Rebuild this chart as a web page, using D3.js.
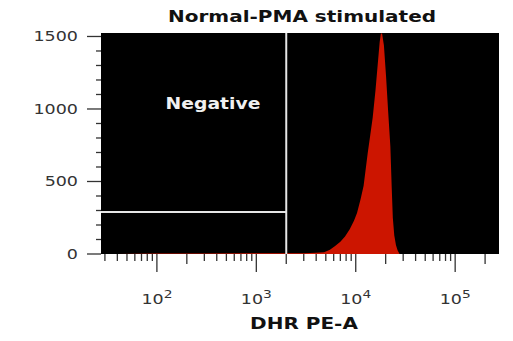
<!DOCTYPE html>
<html>
<head>
<meta charset="utf-8">
<script src="https://cdn.jsdelivr.net/npm/d3@7"></script>
<style>
  body { margin: 0; background: #fff; }
  svg text { font-family: "DejaVu Sans", Verdana, sans-serif; }
</style>
</head>
<body>
<div id="chart"></div>
<script>
// histogram: DHR PE-A channel value -> event count
const dhrValues = [40, 100, 300, 1000, 2000, 3000, 4000, 4800, 5500, 6200, 7000, 7800, 8700, 9600,
  10300, 11200, 12000, 13200, 14000, 14800, 15800, 16600, 17400, 17900, 18400, 19200, 20200,
  21200, 22300, 23000, 23600, 24400, 25400, 26400, 27600];
const eventCounts = [0, 3, 4, 5, 5, 6, 8, 12, 30, 55, 85, 120, 170, 230,
  283, 380, 470, 697, 820, 940, 1130, 1300, 1460, 1520, 1520, 1440, 1220,
  980, 740, 460, 250, 130, 60, 25, 0];

const yTicks = [0, 500, 1000, 1500];
const decades = [100, 1000, 10000, 100000];
const gateX = 2000;   // vertical gate
const gateY = 290;    // horizontal gate
const chartTitle = "Normal-PMA stimulated";
const xTitle = "DHR PE-A";
const gateLabel = "Negative";

const width = 513, height = 341;
const plot = {left: 101, right: 499, top: 33, bottom: 254};
const stretch = 1.25;   // source picture is stretched sideways

const svg = d3.select("#chart")
  .append("svg")
  .attr("width", width)
  .attr("height", height);

const x = d3.scaleLog()
  .domain([27.4, 276000])
  .range([plot.left, plot.right]);

const y = d3.scaleLinear()
  .domain([0, 1524])
  .range([plot.bottom, plot.top]);

// stretched text helper
function label(px, py, txt, size, weight, fill, anchor) {
  return svg.append("text")
    .attr("transform", "translate(" + px + "," + py + ") scale(" + stretch + ",1)")
    .attr("text-anchor", anchor)
    .attr("font-size", size)
    .attr("font-weight", weight)
    .attr("fill", fill)
    .text(txt);
}

// plot background
svg.append("rect")
  .attr("x", plot.left)
  .attr("y", plot.top)
  .attr("width", plot.right - plot.left)
  .attr("height", plot.bottom - plot.top)
  .attr("fill", "#000");

svg.append("clipPath").attr("id", "clip")
  .append("rect")
  .attr("x", plot.left)
  .attr("y", plot.top)
  .attr("width", plot.right - plot.left)
  .attr("height", plot.bottom - plot.top);

const data = dhrValues.map((v, i) => ({v: v, c: eventCounts[i]}));

const area = d3.area()
  .x(d => x(d.v))
  .y0(y(0))
  .y1(d => y(d.c));

svg.append("path")
  .datum(data)
  .attr("clip-path", "url(#clip)")
  .attr("d", area)
  .attr("fill", "#cc1500");

// gates
svg.append("line")
  .attr("x1", x(gateX)).attr("x2", x(gateX))
  .attr("y1", plot.top).attr("y2", plot.bottom)
  .attr("stroke", "#e6e6e6").attr("stroke-width", 2);

svg.append("line")
  .attr("x1", plot.left).attr("x2", x(gateX))
  .attr("y1", y(gateY)).attr("y2", y(gateY))
  .attr("stroke", "#e6e6e6").attr("stroke-width", 2);

label(213, 109, gateLabel, 15, "bold", "#f0f0f0", "middle");

// y axis
const yMinor = d3.range(0, 1501, 100);
svg.selectAll(".ytick")
  .data(yMinor)
  .enter()
  .append("line")
  .attr("x1", d => d % 500 === 0 ? plot.left - 14 : plot.left - 5)
  .attr("x2", plot.left)
  .attr("y1", d => y(d)).attr("y2", d => y(d))
  .attr("stroke", "#333").attr("stroke-width", 1.3);

yTicks.forEach(t => {
  label(78, y(t) + 5, t, 14, "normal", "#333", "end");
});

// x axis ticks: decades long, 2x medium, others short
const xMinor = [];
[10, 100, 1000, 10000, 100000].forEach(dec => {
  for (let m = 1; m < 10; m++) {
    const v = dec * m;
    if (v >= x.domain()[0] && v <= x.domain()[1]) xMinor.push({v: v, m: m});
  }
});

svg.selectAll(".xtick")
  .data(xMinor)
  .enter()
  .append("line")
  .attr("x1", d => x(d.v)).attr("x2", d => x(d.v))
  .attr("y1", plot.bottom)
  .attr("y2", d => d.m === 1 ? plot.bottom + 18 : (d.m === 2 ? plot.bottom + 10 : plot.bottom + 7))
  .attr("stroke", "#333").attr("stroke-width", 1.3);

decades.forEach(d => {
  const t = label(x(d), 304, "10", 14, "normal", "#333", "middle");
  t.append("tspan")
    .attr("dy", -6)
    .attr("font-size", 11)
    .text(Math.round(Math.log10(d)));
});

// titles
label(302, 22, chartTitle, 16, "bold", "#111", "middle");
label(304, 329, xTitle, 16, "bold", "#111", "middle");
</script>
</body>
</html>
